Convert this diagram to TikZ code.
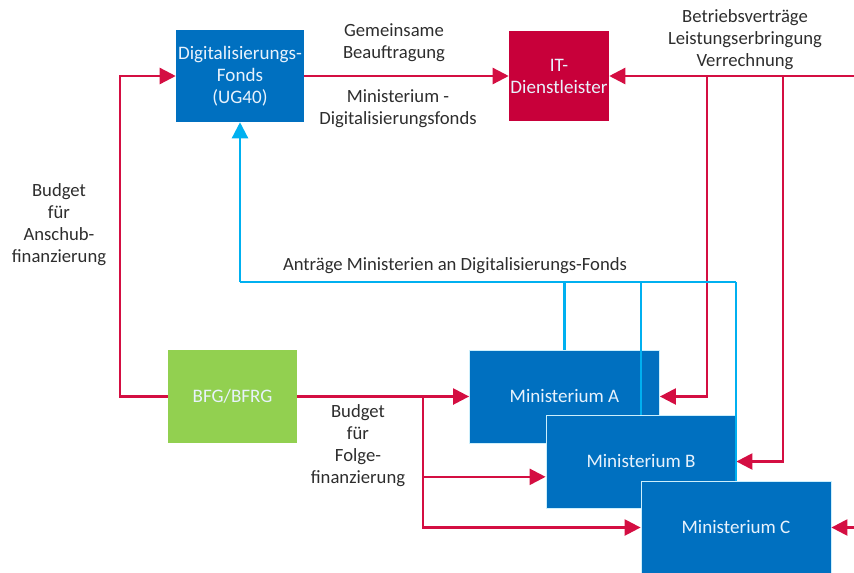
\documentclass[tikz,border=0pt]{standalone}
\usepackage{fontspec}
\setmainfont{Carlito}
\usetikzlibrary{arrows.meta}

\definecolor{fondsblue}{RGB}{0,112,192}
\definecolor{itred}{RGB}{200,0,58}
\definecolor{flowred}{RGB}{212,14,66}
\definecolor{applcyan}{RGB}{0,176,240}
\definecolor{budgetgreen}{RGB}{146,208,80}
\definecolor{labelgray}{RGB}{45,45,45}
\definecolor{boxtext}{RGB}{232,242,252}

\tikzset{
  box/.style={inner sep=0pt, align=center, text=boxtext,
    font=\fontsize{14.3}{16.5}\selectfont},
  ministry/.style={box, fill=fondsblue, draw=white!80!applcyan, line width=0.6pt,
    minimum width=142.5pt, minimum height=69.75pt},
  lbl/.style={align=center, text=labelgray, inner sep=0pt,
    font=\fontsize{14}{16.5}\selectfont},
  flow/.style={draw=flowred, line width=1.8pt},
  flowarr/.style={flow, -{Triangle[length=12pt,width=12pt]}},
  appl/.style={draw=applcyan, line width=1.7pt},
  applarr/.style={appl, -{Triangle[length=12pt,width=12pt]}},
}

\begin{document}
\begin{tikzpicture}[x=0.75pt,y=-0.75pt]
\useasboundingbox (0,0) rectangle (854,572);

% top row
\node[box, fill=fondsblue, minimum width=96pt, minimum height=69pt] (df) at (240,76)
  {Digitalisierungs-\\Fonds\\(UG40)};
\node[box, fill=itred, minimum width=75pt, minimum height=67.5pt] (it) at (559,76)
  {IT-\\Dienstleister};

% budget source
\node[box, fill=budgetgreen, minimum width=96.75pt, minimum height=69.75pt] (bfg) at (232.5,396.5)
  {BFG/BFRG};

% ministries, each drawn over the previous one
\node[ministry] (ma) at (564.5,396.5) {Ministerium A};
\node[ministry] (mb) at (641,461.5) {Ministerium B};
\node[ministry] (mc) at (736,527.5) {Ministerium C};

% free ends at the right margin
\coordinate (topR) at (854,76);
\coordinate (cR) at (854,527.5);
\coordinate (j1) at (707,76);
\coordinate (j2) at (783,76);
\coordinate (split) at (423,396.5);
\coordinate (cy0) at (240,282);

% commissioning of the IT service provider
\draw[flowarr] (df) -- (it);

% operating contracts, service delivery, billing
\draw[flowarr] (topR) -- (it);
\draw[flowarr] (j1) |- (ma.east);
\draw[flowarr] (j2) |- (mb.east);
\draw[flowarr] (cR) -- (mc);

% start-up financing
\draw[flowarr] (bfg.west) -- ++(-48,0) |- (df.west);

% follow-up financing
\draw[flowarr] (bfg) -- (ma);
\draw[flowarr] (split) |- ([yshift=-11.5pt]mb.west);
\draw[flowarr] (split) |- (mc.west);

% applications of the ministries to the fund
\draw[applarr] (cy0) -- (df.south);
\draw[appl] (cy0) -- (mc.north |- cy0);
\draw[appl] (ma.north) -- (ma.north |- cy0);
\draw[appl] (mb.north) -- (mb.north |- cy0);
\draw[appl] (mc.north) -- (mc.north |- cy0);

% labels
\node[lbl] (lgem) at (394,43) {Gemeinsame\\Beauftragung};
\node[lbl] (lmin) at (398,109) {Ministerium -\\Digitalisierungsfonds};
\node[lbl] (lbetr) at (745,40) {Betriebsverträge\\Leistungserbringung\\Verrechnung};
\node[lbl] (lansch) at (59,225) {Budget\\für\\Anschub-\\finanzierung};
\node[lbl] (lfolge) at (358,446) {Budget\\für\\Folge-\\finanzierung};
\node[lbl] (lantr) at (455,266) {Anträge Ministerien an Digitalisierungs-Fonds};
\end{tikzpicture}
\end{document}
